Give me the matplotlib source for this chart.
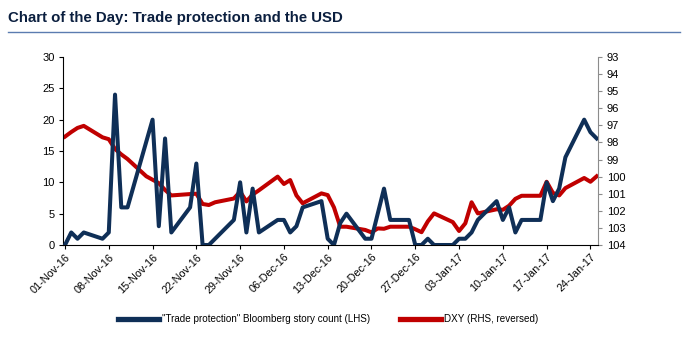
import matplotlib
matplotlib.use("Agg")
import matplotlib.pyplot as plt
from matplotlib import font_manager
from matplotlib.lines import Line2D
import pandas as pd

# ---------------- data ----------------
story_dates = ["2016-11-01","2016-11-02","2016-11-03","2016-11-04","2016-11-07","2016-11-08",
               "2016-11-09","2016-11-10","2016-11-11","2016-11-15","2016-11-16","2016-11-17",
               "2016-11-18","2016-11-21","2016-11-22","2016-11-23","2016-11-24","2016-11-28",
               "2016-11-29","2016-11-30","2016-12-01","2016-12-02","2016-12-05","2016-12-06",
               "2016-12-07","2016-12-08","2016-12-09","2016-12-12","2016-12-13","2016-12-14",
               "2016-12-15","2016-12-16","2016-12-19","2016-12-20","2016-12-21","2016-12-22",
               "2016-12-23","2016-12-26","2016-12-27","2016-12-28","2016-12-29","2016-12-30",
               "2017-01-02","2017-01-03","2017-01-04","2017-01-05","2017-01-06","2017-01-09",
               "2017-01-10","2017-01-11","2017-01-12","2017-01-13","2017-01-16","2017-01-17",
               "2017-01-18","2017-01-19","2017-01-20","2017-01-23","2017-01-24","2017-01-25"]
story_count = [0, 2, 1, 2, 1, 2,
               24, 6, 6, 20, 3, 17,
               2, 6, 13, 0, 0, 4,
               10, 2, 9, 2, 4, 4,
               2, 3, 6, 7, 1, 0,
               3.5, 5, 1, 1, 5, 9,
               4, 4, 0, 0, 1, 0,
               0, 1, 1, 2, 4, 7,
               4, 6, 2, 4, 4, 10,
               7, 9, 14, 20, 18, 17]

dxy_dates = ["2016-11-01","2016-11-02","2016-11-03","2016-11-04","2016-11-07","2016-11-08",
             "2016-11-09","2016-11-10","2016-11-11","2016-11-14","2016-11-15","2016-11-16",
             "2016-11-17","2016-11-18","2016-11-21","2016-11-22","2016-11-23","2016-11-24",
             "2016-11-25","2016-11-28","2016-11-29","2016-11-30","2016-12-01","2016-12-02",
             "2016-12-05","2016-12-06","2016-12-07","2016-12-08","2016-12-09","2016-12-12",
             "2016-12-13","2016-12-14","2016-12-15","2016-12-16","2016-12-19","2016-12-20",
             "2016-12-21","2016-12-22","2016-12-23","2016-12-26","2016-12-27","2016-12-28",
             "2016-12-29","2016-12-30","2017-01-02","2017-01-03","2017-01-04","2017-01-05",
             "2017-01-06","2017-01-09","2017-01-10","2017-01-11","2017-01-12","2017-01-13",
             "2017-01-16","2017-01-17","2017-01-18","2017-01-19","2017-01-20","2017-01-23",
             "2017-01-24","2017-01-25"]
dxy_value = [97.66, 97.39, 97.15, 97.03, 97.70, 97.81,
             98.38, 98.70, 98.97, 99.98, 100.18, 100.38,
             100.78, 101.10, 101.02, 101.00, 101.60, 101.66,
             101.50, 101.28, 100.88, 101.45, 101.05, 100.80,
             100.00, 100.43, 100.20, 101.10, 101.56, 100.98,
             101.08, 101.80, 102.93, 102.93, 103.12, 103.26,
             103.03, 103.05, 102.93, 102.93, 103.08, 103.25,
             102.62, 102.15, 102.66, 103.18, 102.73, 101.50,
             102.15, 101.91, 101.94, 101.70, 101.30, 101.12,
             101.12, 100.30, 100.95, 101.10, 100.67, 100.08,
             100.30, 99.98]

x_tick_labels = ["01-Nov-16","08-Nov-16","15-Nov-16","22-Nov-16","29-Nov-16","06-Dec-16",
                 "13-Dec-16","20-Dec-16","27-Dec-16","03-Jan-17","10-Jan-17","17-Jan-17","24-Jan-17"]
left_ticks = [0, 5, 10, 15, 20, 25, 30]
right_ticks = list(range(93, 105))

title = "Chart of the Day: Trade protection and the USD"
label_story = "\"Trade protection\" Bloomberg story count (LHS)"
label_dxy = "DXY (RHS, reversed)"

# ---------------- fonts ----------------
avail = {f.name for f in font_manager.fontManager.ttflist}
narrow = "Liberation Sans Narrow" if "Liberation Sans Narrow" in avail else "Liberation Sans"
plt.rcParams['font.family'] = [narrow, "DejaVu Sans"]
small = 7.6 if narrow.endswith("Narrow") else 7.1

NAVY = "#0f2f57"
RED = "#c00000"

fig = plt.figure(figsize=(6.86, 3.38), dpi=100)
ax = fig.add_axes([62.8/686, 1-245/338, (598.3-62.8)/686, (245-57)/338])
ax2 = ax.twinx()

sd = pd.to_datetime(story_dates)
dd = pd.to_datetime(dxy_dates)

ax2.plot(dd, dxy_value, color=RED, lw=2.9, solid_joinstyle='round', zorder=2)
ax.plot(sd, story_count, color=NAVY, lw=2.9, solid_joinstyle='round', zorder=3)
ax.set_zorder(ax2.get_zorder() + 1)
ax.patch.set_visible(False)

x0 = pd.Timestamp("2016-11-01") - pd.Timedelta(hours=8.4)
x1 = pd.Timestamp("2017-01-25") + pd.Timedelta(hours=6.2)
ax.set_xlim(x0, x1)

ax.set_ylim(0, 30)
ax.set_yticks(left_ticks)
ax.set_yticklabels([str(v) for v in left_ticks])
ax2.set_ylim(104, 93)
ax2.set_yticks(right_ticks)
ax2.set_yticklabels([str(v) for v in right_ticks])

xt = pd.to_datetime(x_tick_labels, format="%d-%b-%y")
ax.set_xticks(xt)
ax.set_xticklabels(x_tick_labels, rotation=45, ha='right', rotation_mode='anchor')

for a in (ax, ax2):
    a.spines['top'].set_visible(False)
ax.spines['right'].set_visible(False)
ax2.spines['left'].set_visible(False)
ax2.spines['bottom'].set_visible(False)
ax.spines['left'].set_color('black')
ax.spines['bottom'].set_color('black')
ax2.spines['right'].set_color('#8c8c8c')

ax.tick_params(axis='y', direction='out', length=3, width=0.8, labelsize=8.0, pad=3, colors='black')
ax.tick_params(axis='x', direction='out', length=3, width=0.8, labelsize=7.8, pad=2, colors='black')
ax2.tick_params(axis='y', direction='out', length=3, width=0.8, labelsize=8.0, pad=3,
                color='#8c8c8c', labelcolor='black')

# title + rule
fig.text(8/686, 1-18/338, title, fontsize=10.8, fontweight='bold', color='#0b1f3f',
         va='center', ha='left')
fig.add_artist(Line2D([8/686, 680/686], [1-31.7/338, 1-31.7/338], color='#5b7cb0', lw=1.0))

# legend
handles = [Line2D([], [], color=NAVY, lw=3.8), Line2D([], [], color=RED, lw=3.8)]
fig.legend(handles, [label_story, label_dxy], loc='center', bbox_to_anchor=(328/686, 1-319/338),
           ncol=2, frameon=False, fontsize=small, handlelength=4.15, handletextpad=0.3,
           columnspacing=3.0, borderaxespad=0)

fig.savefig("out.png", dpi=100)
